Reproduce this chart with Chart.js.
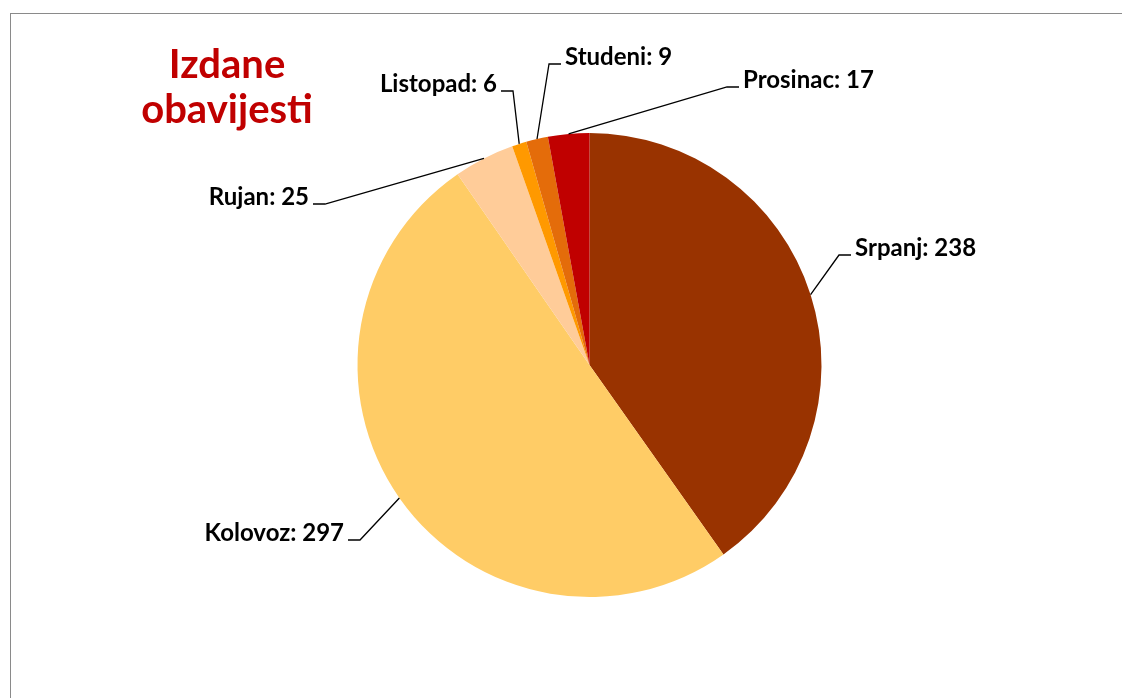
<!DOCTYPE html>
<html>
<head>
<meta charset="utf-8">
<script src="https://cdn.jsdelivr.net/npm/chart.js@4"></script>
<style>
  html, body { margin: 0; padding: 0; background: #fff; overflow: hidden; }
  #wrap { position: relative; width: 1122px; height: 698px; }
  #frame { position: absolute; left: 10px; top: 13px; width: 1200px; height: 800px; border: 1px solid #8a8a8a; }
  #chart { position: absolute; left: 0; top: 0; }
</style>
</head>
<body>
<div id="wrap">
  <div id="frame"></div>
  <canvas id="chart" width="1122" height="698"></canvas>
</div>
<script>
// data
const months = ['Srpanj', 'Kolovoz', 'Rujan', 'Listopad', 'Studeni', 'Prosinac'];
const notices = [238, 297, 25, 6, 9, 17];
const sliceColors = ['#993300', '#FFCC66', '#FFCC99', '#FF9900', '#E46C0A', '#C00000'];
const titleLines = ['Izdane', 'obavijesti'];

// label layout: text anchor offset from pie centre, side the text sits on
const labelLayout = [
    { dx: 265.5, dy: -109, side: 'right' },
    { dx: -245.5, dy: 176, side: 'left' },
    { dx: -280.5, dy: -160, side: 'left' },
    { dx: -92.5, dy: -273, side: 'left' },
    { dx: -24.5, dy: -300, side: 'right' },
    { dx: 153.5, dy: -277, side: 'right' }
];

const calloutPlugin = {
    id: 'callouts',
    afterDraw(chart) {
        const ctx = chart.ctx;
        const arcs = chart.getDatasetMeta(0).data;

        ctx.save();
        // title
        ctx.fillStyle = '#C00000';
        ctx.font = 'bold 40px Lato';
        ctx.textAlign = 'center';
        ctx.textBaseline = 'alphabetic';
        titleLines.forEach(function(line, i) {
            ctx.fillText(line, 227, 78 + i * 45);
        });

        // labels with leader lines
        ctx.font = 'bold 24px Lato';
        ctx.strokeStyle = '#000';
        ctx.lineWidth = 1.3;
        ctx.fillStyle = '#000';
        arcs.forEach(function(arc, i) {
            const p = arc.getProps(['x', 'y', 'startAngle', 'endAngle', 'outerRadius'], true);
            const mid = (p.startAngle + p.endAngle) / 2;
            const ax = p.x + Math.cos(mid) * p.outerRadius;
            const ay = p.y + Math.sin(mid) * p.outerRadius;
            const lay = labelLayout[i];
            const tx = p.x + lay.dx;
            const ty = p.y + lay.dy;
            const dir = lay.side === 'right' ? 1 : -1;
            const elbowX = tx - dir * 16;
            const lineY = ty - 1;

            ctx.beginPath();
            ctx.moveTo(ax, ay);
            ctx.lineTo(elbowX, lineY);
            ctx.lineTo(tx - dir * 4, lineY);
            ctx.stroke();

            ctx.textAlign = lay.side === 'right' ? 'left' : 'right';
            ctx.fillText(months[i] + ': ' + notices[i], tx, ty);
        });
        ctx.restore();
    }
};

new Chart(document.getElementById('chart'), {
    type: 'pie',
    data: {
        labels: months,
        datasets: [{
            data: notices,
            backgroundColor: sliceColors,
            borderWidth: 0
        }]
    },
    options: {
        responsive: false,
        devicePixelRatio: 1,
        animation: false,
        layout: {
            padding: { left: 357, right: 300, top: 133, bottom: 101 }
        },
        plugins: {
            legend: { display: false },
            tooltip: { enabled: false },
            title: { display: false }
        }
    },
    plugins: [calloutPlugin]
});
</script>
</body>
</html>
